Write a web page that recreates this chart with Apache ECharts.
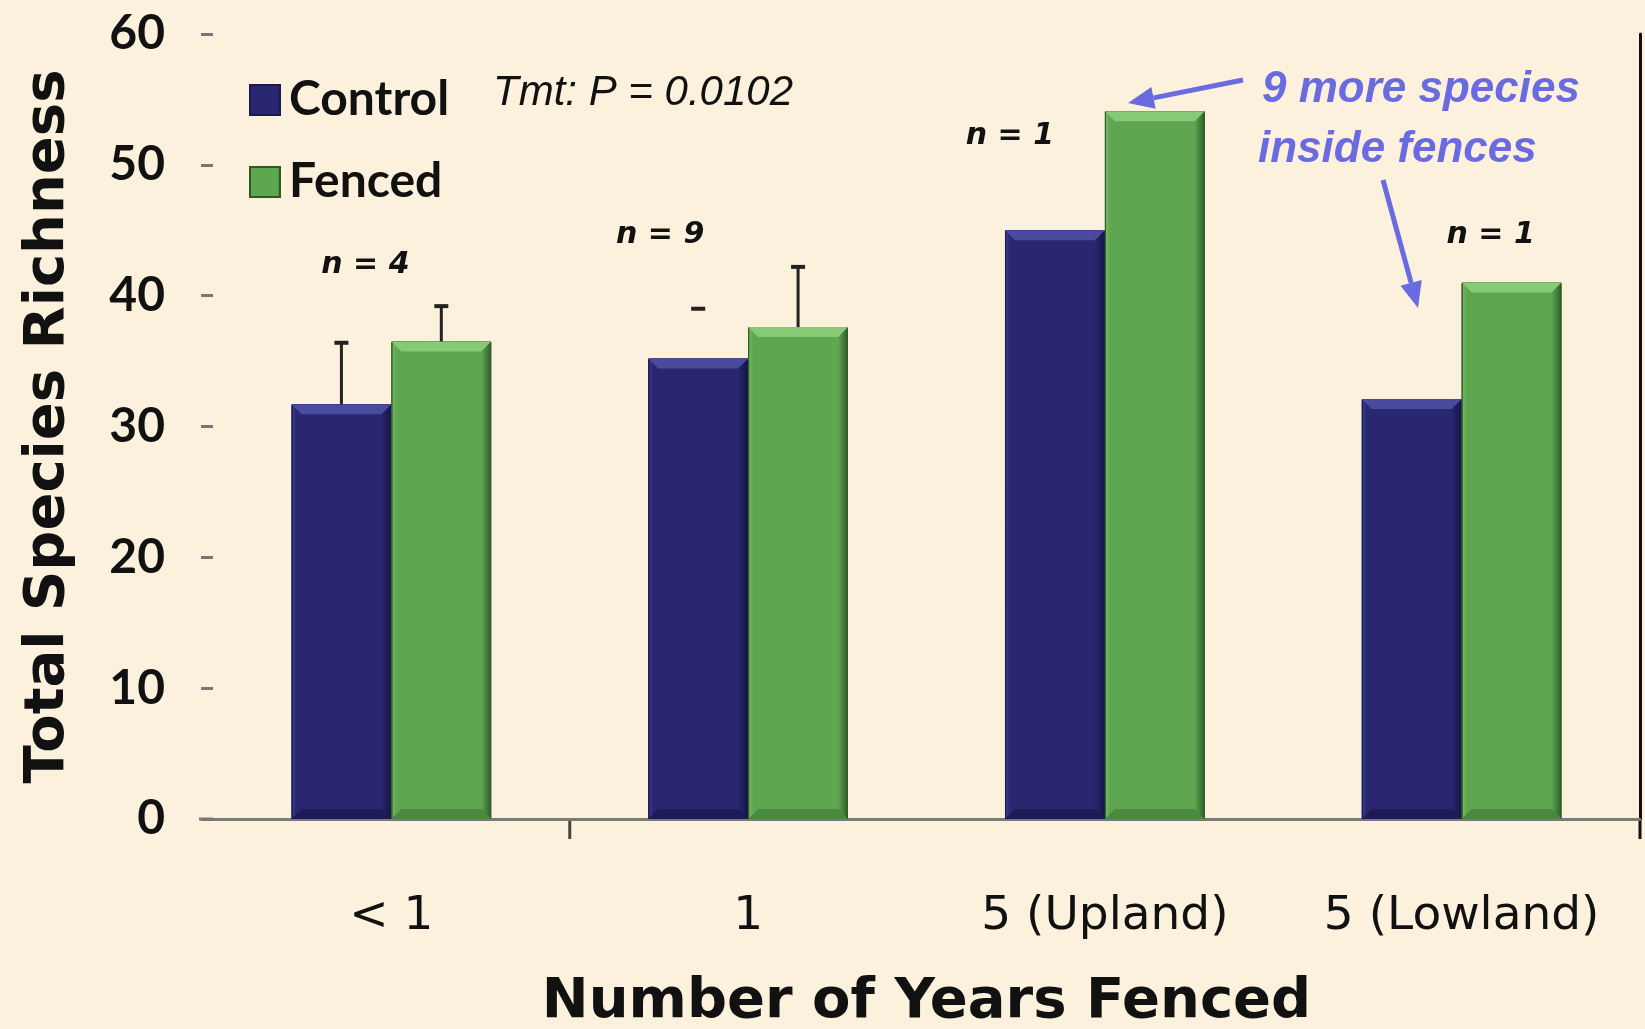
<!DOCTYPE html>
<html>
<head>
<meta charset="utf-8">
<script src="https://cdn.jsdelivr.net/npm/echarts@6/dist/echarts.min.js"></script>
<style>
html,body{margin:0;padding:0;background:#FBF1DC;}
#c{width:1645px;height:1029px;}
</style>
</head>
<body>
<div id="c"></div>
<script>
const categories = ['< 1', '1', '5 (Upland)', '5 (Lowland)'];
const controlValues = [31.7, 35.2, 45.0, 32.1];
const fencedValues = [36.5, 37.6, 54.1, 41.0];
const controlErrTop = [36.4, 39.0, null, null];
const controlErrStem = [true, false, false, false];
const fencedErrTop = [39.2, 42.2, null, null];
const fencedErrStem = [true, true, false, false];
const yTicks = [0, 10, 20, 30, 40, 50, 60];
const nLabels = ['n = 4', 'n = 9', 'n = 1', 'n = 1'];
const nLabelValues = [42.3, 44.6, 52.2, 44.6];
const nLabelOffsets = [24, -38, -45, 79];

const NAVY = '#282770';
const GREEN = '#5FA650';
const GAP = 0.44;

function barGrad(base, light, dark) {
  return new echarts.graphic.LinearGradient(0, 0, 1, 0, [
    {offset: 0, color: light}, {offset: 0.05, color: base},
    {offset: 0.9, color: base}, {offset: 1, color: dark}
  ]);
}

const chart = echarts.init(document.getElementById('c'), null, {renderer: 'canvas'});

function errItem(offsetSign, tops, stems, values) {
  return function (params, api) {
    const i = api.value(0);
    const top = tops[i];
    if (top == null) return null;
    const catW = api.size([1, 0])[0];
    const bw = catW * (1 - GAP) / 2;
    const c = api.coord([i, top]);
    const b = api.coord([i, values[i]]);
    const x = c[0] + offsetSign * bw / 2;
    const children = [{
      type: 'line', shape: {x1: x - 7, y1: c[1], x2: x + 7, y2: c[1]},
      style: {stroke: '#222', lineWidth: 4}
    }];
    if (stems[i]) children.push({
      type: 'line', shape: {x1: x, y1: c[1], x2: x, y2: b[1]},
      style: {stroke: '#222', lineWidth: 3}
    });
    return {type: 'group', children: children};
  };
}

function bevelItem(offsetSign, values, topColor, bottomColor) {
  return function (params, api) {
    const i = api.value(0);
    const catW = api.size([1, 0])[0];
    const bw = catW * (1 - GAP) / 2;
    const t = api.coord([i, values[i]]);
    const z = api.coord([i, 0]);
    const xl = t[0] + (offsetSign < 0 ? -bw : 0);
    const xr = xl + bw;
    const d = 10;
    return {type: 'group', children: [
      {type: 'polygon', shape: {points: [[xl, t[1]], [xr, t[1]], [xr - d, t[1] + d], [xl + d, t[1] + d]]},
        style: {fill: topColor}},
      {type: 'polygon', shape: {points: [[xl, z[1]], [xr, z[1]], [xr - d, z[1] - d], [xl + d, z[1] - d]]},
        style: {fill: bottomColor}}
    ]};
  };
}

const option = {
  backgroundColor: '#FBF1DC',
  animation: false,
  grid: {left: 213, right: 5, top: 34, bottom: 210, containLabel: false, outerBoundsMode: 'none'},
  legend: {
    orient: 'vertical', left: 244, top: 71, itemWidth: 30, itemHeight: 30, itemGap: 34,
    icon: 'rect',
    textStyle: {fontFamily: 'Lato', fontWeight: 'bold', fontSize: 48, lineHeight: 30, color: '#111', padding: [0, 0, 0, 4]},
    data: ['Control', 'Fenced']
  },
  xAxis: {
    type: 'category', data: categories,
    name: 'Number of Years Fenced', nameLocation: 'middle', nameGap: 155,
    nameTextStyle: {fontFamily: 'DejaVu Sans', fontWeight: 'bold', fontSize: 56, color: '#111'},
    axisLine: {lineStyle: {color: '#7a7a7a', width: 3}},
    axisTick: {show: false},
    axisLabel: {interval: 0, hideOverlap: false, fontFamily: 'DejaVu Sans', fontSize: 47, color: '#111', margin: 74}
  },
  yAxis: [{
    type: 'value', min: 0, max: 60, interval: 10,
    name: 'Total Species Richness', nameLocation: 'middle', nameGap: 137, nameRotate: 90,
    nameTextStyle: {fontFamily: 'DejaVu Sans', fontWeight: 'bold', fontSize: 56, color: '#111'},
    axisLine: {show: false},
    axisTick: {show: true, length: 12, lineStyle: {color: '#777', width: 3}},
    axisLabel: {fontFamily: 'Lato', fontWeight: 'bold', fontSize: 48, color: '#111', margin: 48,
      formatter: function (v) { return yTicks.indexOf(v) >= 0 ? String(v) : ''; }},
    splitLine: {show: false}
  }, {
    type: 'value', min: 0, max: 60, interval: 10, position: 'right',
    axisLine: {show: true, lineStyle: {color: '#111', width: 3}},
    axisTick: {show: false}, axisLabel: {show: false}, splitLine: {show: false}
  }],
  series: [
    {
      name: 'Control', type: 'bar', data: controlValues, barGap: '0%', barCategoryGap: (GAP * 100) + '%',
      itemStyle: {color: barGrad(NAVY, '#3d3c92', '#151440'), borderColor: '#1a1950', borderWidth: 1},
      markPoint: {
        symbol: 'circle', symbolSize: 0,
        label: {show: true, formatter: '{b}', fontFamily: 'DejaVu Sans', fontStyle: 'italic', fontWeight: 'bold', fontSize: 30, color: '#111'},
        data: nLabels.map(function (t, i) {
          return {name: t, coord: [i, nLabelValues[i]], label: {offset: [nLabelOffsets[i], 0]}};
        })
      }
    },
    {
      name: 'Fenced', type: 'bar', data: fencedValues,
      itemStyle: {color: barGrad(GREEN, '#78bd68', '#2f5a28'), borderColor: '#2e5a27', borderWidth: 1}
    },
    {
      type: 'custom', name: 'ctrlBevel', renderItem: bevelItem(-1, controlValues, '#4a4a9e', '#1c1b55'),
      data: categories.map(function (c, i) { return [i]; }), z: 4, silent: true
    },
    {
      type: 'custom', name: 'fenBevel', renderItem: bevelItem(1, fencedValues, '#86c977', '#4a8a3e'),
      data: categories.map(function (c, i) { return [i]; }), z: 4, silent: true
    },
    {
      type: 'custom', name: 'ctrlErr', renderItem: errItem(-1, controlErrTop, controlErrStem, controlValues),
      data: categories.map(function (c, i) { return [i]; }), z: 5, silent: true
    },
    {
      type: 'custom', name: 'fenErr', renderItem: errItem(1, fencedErrTop, fencedErrStem, fencedValues),
      data: categories.map(function (c, i) { return [i]; }), z: 5, silent: true
    }
  ]
};

chart.setOption(option);

// layout decorations
const BLUE = '#6A6BE0';
function arrow(x1, y1, x2, y2) {
  const ang = Math.atan2(y2 - y1, x2 - x1);
  const L = 26, W = 11;
  const bx = x2 - L * Math.cos(ang), by = y2 - L * Math.sin(ang);
  const px = -Math.sin(ang) * W, py = Math.cos(ang) * W;
  return [
    {type: 'line', shape: {x1: x1, y1: y1, x2: bx, y2: by}, style: {stroke: BLUE, lineWidth: 5}},
    {type: 'polygon', shape: {points: [[x2, y2], [bx + px, by + py], [bx - px, by - py]]}, style: {fill: BLUE}}
  ];
}
const p0 = chart.convertToPixel({xAxisIndex: 0, yAxisIndex: 0}, [0, 0]);
const p1 = chart.convertToPixel({xAxisIndex: 0, yAxisIndex: 0}, [1, 0]);
const tickX = (p0[0] + p1[0]) / 2;
const rightX = chart.convertToPixel({xAxisIndex: 0, yAxisIndex: 0}, [3, 0])[0] + (p1[0] - p0[0]) / 2;
const gr = [
  {type: 'line', shape: {x1: tickX, y1: p0[1], x2: tickX, y2: p0[1] + 20}, style: {stroke: '#444', lineWidth: 3}},
  {type: 'line', shape: {x1: p0[0] - (p1[0] - p0[0]) / 2 - 14, y1: p0[1], x2: p0[0] - (p1[0] - p0[0]) / 2, y2: p0[1]}, style: {stroke: '#7a7a7a', lineWidth: 3}},
  {type: 'line', shape: {x1: rightX, y1: p0[1], x2: rightX, y2: p0[1] + 20}, style: {stroke: '#111', lineWidth: 3}},
  {type: 'text', left: 493, top: 72, style: {text: 'Tmt: P = 0.0102', font: 'italic 42px "Liberation Sans"', fill: '#111'}},
  {type: 'text', left: 1262, top: 68, style: {text: '9 more species', font: 'italic bold 44px "Liberation Sans"', fill: BLUE}},
  {type: 'text', left: 1258, top: 128, style: {text: 'inside fences', font: 'italic bold 44px "Liberation Sans"', fill: BLUE}}
].concat(arrow(1243, 80, 1128, 103)).concat(arrow(1383, 180, 1418, 308));
chart.setOption({graphic: gr});
</script>
</body>
</html>
